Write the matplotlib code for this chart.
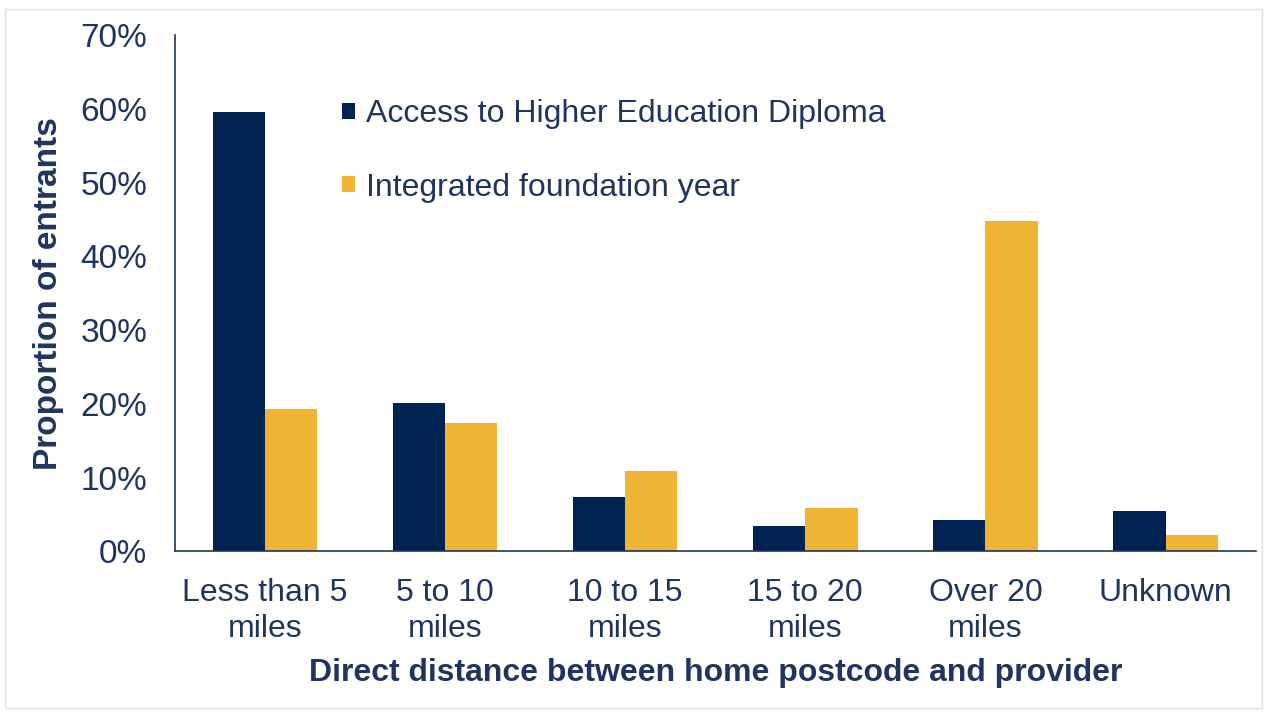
import matplotlib.pyplot as plt
import numpy as np
from matplotlib.patches import Rectangle

plt.rcParams.update({
    "font.family": ["Liberation Sans", "DejaVu Sans"],
})

NAVY = "#002452"
GOLD = "#F0B435"
TEXT = "#1F3560"

categories = ["Less than 5\nmiles", "5 to 10\nmiles", "10 to 15\nmiles",
              "15 to 20\nmiles", "Over 20\nmiles", "Unknown"]
access_vals = [59.6, 20.1, 7.3, 3.4, 4.3, 5.4]
ify_vals = [19.3, 17.4, 10.9, 5.8, 44.8, 2.2]
series_names = ["Access to Higher Education Diploma", "Integrated foundation year"]

fig = plt.figure(figsize=(12.67, 7.15), dpi=100)
ax = fig.add_axes([0.138, 0.229, 0.853, 0.722])

x = np.arange(len(categories))
w = 0.29
ax.bar(x - w / 2, access_vals, w, color=NAVY, label=series_names[0])
ax.bar(x + w / 2, ify_vals, w, color=GOLD, label=series_names[1])

ax.set_xlim(-0.5, len(categories) - 0.5)
ax.set_ylim(0, 70)
ax.set_yticks(range(0, 71, 10))
ax.set_yticklabels([f"{v}%" for v in range(0, 71, 10)], fontsize=24, color=TEXT)
ax.set_xticks(x)
ax.set_xticklabels(categories, fontsize=23, color=TEXT, linespacing=1.27)
ax.tick_params(axis="y", length=0, pad=20)
ax.tick_params(axis="x", length=0, pad=19)

for s in ["top", "right"]:
    ax.spines[s].set_visible(False)
for s in ["left", "bottom"]:
    ax.spines[s].set_color(TEXT)
    ax.spines[s].set_linewidth(1.2)

ax.set_ylabel("Proportion of entrants", fontsize=24, fontweight="bold",
              color=TEXT, labelpad=12)
ax.set_xlabel("Direct distance between home postcode and provider",
              fontsize=23, fontweight="bold", color=TEXT, labelpad=10)

leg = ax.legend(loc="upper left", bbox_to_anchor=(0.155, 0.876), frameon=False,
                fontsize=23, handlelength=0.4, handleheight=0.4,
                handletextpad=0.35, labelspacing=1.37, borderpad=0,
                borderaxespad=0)
for t in leg.get_texts():
    t.set_color(TEXT)

fig.patches.append(Rectangle((0.004, 0.01), 0.992, 0.978, transform=fig.transFigure,
                             fill=False, edgecolor="#E0E0E0", lw=1))

fig.savefig("out.png", dpi=100)
